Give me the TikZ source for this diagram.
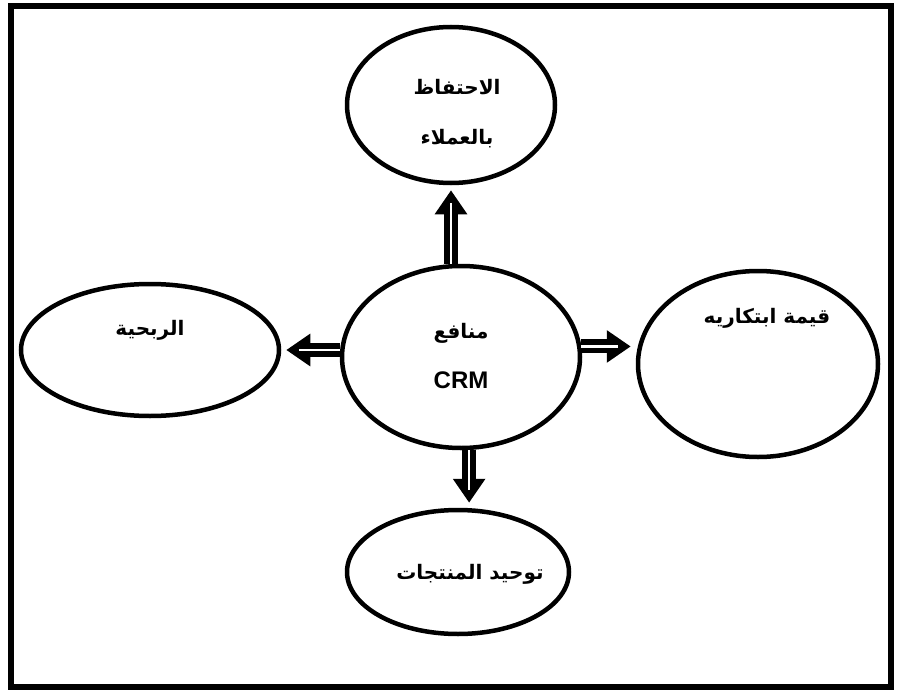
\documentclass[tikz,border=0pt]{standalone}
\usepackage{fontspec}
\setmainfont{Liberation Sans}
\newfontfamily\arabicfont[Script=Arabic]{DejaVu Sans}
\TeXXeTstate=1
\usepackage{tikz}
\usetikzlibrary{shapes.geometric, arrows.meta, positioning, calc}

\begin{document}
\begin{tikzpicture}[
    x=1pt, y=-1pt,
    bubble/.style={ellipse, draw, line width=4.5pt, inner sep=0pt},
    txt/.style={align=center, font=\fontsize{20}{50}\selectfont\bfseries},
    blockarrow/.style={line width=14pt, -{Triangle[length=24pt, width=31pt]}, shorten >=5pt},
    innerline/.style={white, line width=2.5pt, shorten >=18pt},
]
\useasboundingbox (0,0) rectangle (900,690);

% Frame
\draw[line width=6pt] (11,6) rectangle (891,687);

% Bubbles
\node[bubble, minimum width=238pt, minimum height=182pt] (crm) at (461,357) {};
\node[bubble, minimum width=208pt, minimum height=156pt] (keep) at (451,105) {};
\node[bubble, minimum width=258pt, minimum height=132pt] (profit) at (150,350) {};
\node[bubble, minimum width=240pt, minimum height=186pt] (idea) at (758,364) {};
\node[bubble, minimum width=222pt, minimum height=124pt] (unify) at (458,572) {};

% Labels
\node[txt] (crmtxt) at (461,356) {{\arabicfont\beginR منافع\endR}\\{\fontsize{24}{50}\selectfont CRM}};
\node[txt] (keeptxt) at (457,114) {{\arabicfont\beginR الاحتفاظ\endR}\\{\arabicfont\beginR بالعملاء\endR}};
\node[txt] (profittxt) at (150,330) {\arabicfont\beginR الربحية\endR};
\node[txt] (ideatxt) at (767,318) {\arabicfont\beginR قيمة ابتكاريه\endR};
\node[txt] (unifytxt) at (470,574) {\arabicfont\beginR توحيد المنتجات\endR};

% Arrow ends
\coordinate (upbase) at (keep.south |- crm.north);
\coordinate (leftbase) at (crm.west |- profit.east);
\coordinate (rightend) at (crm.5 -| idea.west);
\coordinate (downend) at (crm.-85 |- unify.north);

% Arrows
\foreach \a/\b in {upbase/keep.south, leftbase/profit.east, crm.5/rightend, crm.-85/downend} {
    \draw[blockarrow] (\a) -- (\b);
    \draw[innerline] (\a) -- (\b);
}

\end{tikzpicture}
\end{document}
